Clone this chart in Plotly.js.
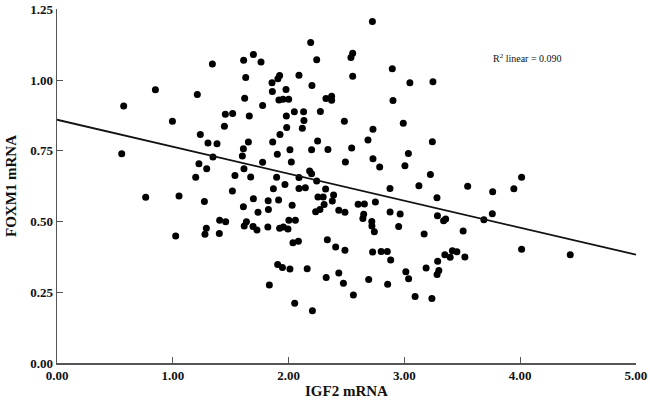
<!DOCTYPE html>
<html>
<head>
<meta charset="utf-8">
<script src="https://cdn.plot.ly/plotly-3.0.1.min.js"></script>
<style>html,body{margin:0;padding:0;background:#fff;}#chart{width:650px;height:413px;}</style>
</head>
<body>
<div id="chart"></div>
<script>
// IGF2 mRNA (x) values
const igf2 = [
0.576,0.559,0.766,0.850,0.997,1.054,1.025,1.198,1.212,1.226,1.238,1.273,1.290,1.278,1.293,1.304,1.342,1.347,1.382,1.405,1.402,1.446,1.454,1.457,
2.191,1.696,1.612,1.762,2.243,1.630,1.923,1.908,2.090,1.857,2.202,1.978,1.860,1.621,1.917,1.952,2.001,2.323,2.372,2.372,1.776,1.517,1.661,2.050,2.130,2.275,1.981,2.133,2.482,1.984,2.119,1.926,2.251,1.863,1.653,1.610,2.012,2.199,2.340,1.903,1.601,2.491,2.024,1.776,1.615,2.182,2.199,1.537,1.673,1.897,2.090,2.243,
2.724,2.554,2.539,2.554,2.896,3.048,3.247,2.902,2.991,2.729,2.686,2.545,3.035,2.729,3.005,2.787,3.242,3.225,3.126,2.876,3.547,3.763,3.946,4.013,3.282,
1.515,1.869,1.969,2.090,2.145,2.320,2.389,2.254,2.299,1.696,1.824,1.914,2.378,1.610,2.031,2.307,2.234,2.271,2.434,2.487,1.736,1.826,1.617,1.636,1.693,1.727,1.821,1.923,1.955,1.995,2.003,2.059,2.038,2.085,2.335,2.407,2.487,1.906,1.947,2.012,2.161,2.325,2.434,2.474,1.834,2.053,2.206,
2.601,2.655,2.750,2.649,2.642,2.719,2.720,2.741,2.877,2.964,2.951,2.726,2.800,2.853,2.882,3.013,3.037,2.692,2.856,2.560,3.093,3.238,3.286,3.339,3.357,3.171,3.508,3.188,3.288,3.298,3.283,3.350,3.415,3.454,3.396,3.523,3.687,3.760,4.013,4.433
];
// FOXM1 mRNA (y) values
const foxm1 = [
0.909,0.740,0.586,0.966,0.855,0.590,0.449,0.657,0.949,0.704,0.808,0.571,0.476,0.455,0.687,0.778,1.057,0.728,0.775,0.505,0.458,0.837,0.879,0.499,
1.133,1.091,1.070,1.064,1.072,1.009,1.016,1.005,1.017,0.991,0.981,0.967,0.960,0.936,0.930,0.932,0.932,0.935,0.943,0.929,0.910,0.882,0.873,0.888,0.888,0.889,0.873,0.857,0.855,0.833,0.830,0.808,0.785,0.781,0.781,0.757,0.754,0.754,0.755,0.738,0.732,0.711,0.711,0.710,0.687,0.679,0.669,0.663,0.658,0.657,0.656,0.643,
1.207,1.095,1.080,1.014,1.040,0.991,0.994,0.928,0.848,0.826,0.788,0.760,0.741,0.722,0.697,0.693,0.782,0.666,0.627,0.617,0.625,0.605,0.616,0.657,0.584,
0.608,0.616,0.631,0.617,0.620,0.615,0.594,0.587,0.587,0.581,0.574,0.576,0.573,0.552,0.558,0.560,0.535,0.543,0.540,0.533,0.533,0.543,0.484,0.499,0.483,0.470,0.481,0.476,0.481,0.474,0.505,0.505,0.425,0.430,0.436,0.410,0.399,0.348,0.338,0.332,0.333,0.302,0.318,0.282,0.276,0.211,0.185,
0.561,0.562,0.569,0.526,0.511,0.500,0.484,0.464,0.534,0.527,0.483,0.392,0.394,0.394,0.364,0.323,0.298,0.295,0.278,0.240,0.235,0.228,0.521,0.503,0.509,0.456,0.467,0.336,0.360,0.327,0.313,0.383,0.397,0.393,0.374,0.375,0.506,0.528,0.402,0.383
];
// Fit line end points
const fitX = [0, 5];
const fitY = [0.860, 0.383];
const xTicks = [0, 1, 2, 3, 4, 5];
const xTickText = ["0.00", "1.00", "2.00", "3.00", "4.00", "5.00"];
const yTicks = [0, 0.25, 0.5, 0.75, 1.0, 1.25];
const yTickText = ["0.00", "0.25", "0.50", "0.75", "1.00", "1.25"];
const r2Label = "R<sup>2</sup> linear = 0.090";

const serif = "Liberation Serif, Times New Roman, serif";
const traces = [
  {x: igf2, y: foxm1, type: "scatter", mode: "markers",
   marker: {color: "#000", size: 7}, hoverinfo: "skip"},
  {x: fitX, y: fitY, type: "scatter", mode: "lines",
   line: {color: "#111", width: 1.8}, hoverinfo: "skip"}
];
const axisCommon = {
  showgrid: false, zeroline: false, showline: true, linecolor: "#555", linewidth: 1.5,
  ticks: "inside", ticklen: 6, tickwidth: 1.2, tickcolor: "#555",
  tickfont: {family: serif, size: 13, color: "#111", weight: "bold"}
};
const layout = {
  width: 650, height: 413,
  margin: {l: 57, r: 14, t: 9, b: 50},
  paper_bgcolor: "#fff", plot_bgcolor: "#fff",
  showlegend: false,
  xaxis: Object.assign({}, axisCommon, {
    range: [0, 5.001], tickvals: xTicks, ticktext: xTickText,
    title: {text: "IGF2 mRNA", font: {family: serif, size: 15, color: "#111", weight: "bold"}, standoff: 3}
  }),
  yaxis: Object.assign({}, axisCommon, {
    range: [0, 1.2515], tickvals: yTicks, ticktext: yTickText,
    title: {text: "FOXM1 mRNA", font: {family: serif, size: 15, color: "#111", weight: "bold"}, standoff: 10}
  }),
  annotations: [{
    x: 4.065, y: 1.078, xref: "x", yref: "y", text: r2Label, showarrow: false,
    font: {family: serif, size: 10, color: "#111"}
  }]
};
Plotly.newPlot("chart", traces, layout, {displayModeBar: false, staticPlot: true});
</script>
</body>
</html>
